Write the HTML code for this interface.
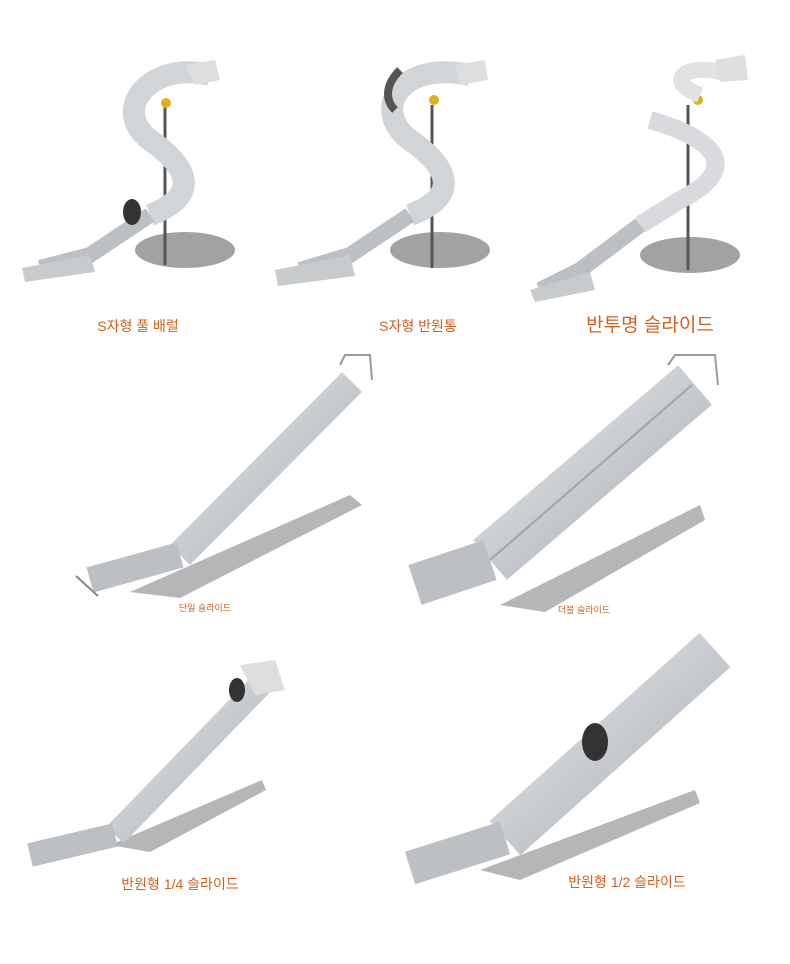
<!DOCTYPE html>
<html><head><meta charset="utf-8"><style>
html,body{margin:0;padding:0;background:#fff;}
svg{display:block}
text{font-family:"Liberation Sans","Noto Sans CJK KR","NanumGothic",sans-serif;fill:#d0601e}
</style></head><body>
<svg width="790" height="964" viewBox="0 0 790 964" xmlns="http://www.w3.org/2000/svg">
<defs>
<linearGradient id="g" x1="0" y1="0" x2="1" y2="1"><stop offset="0" stop-color="#e8eaec"/><stop offset="1" stop-color="#a8adb2"/></linearGradient>
</defs>
<!-- spiral 1 -->
<g>
<ellipse cx="185" cy="250" rx="50" ry="18" fill="#a0a2a4"/>
<line x1="165" y1="105" x2="165" y2="265" stroke="#555" stroke-width="3"/>
<circle cx="166" cy="103" r="5" fill="#e0b020"/>
<path d="M210 75 C150 60 110 110 150 140 C200 175 190 200 150 215" fill="none" stroke="#d2d5d8" stroke-width="22"/>
<path d="M185 65 L215 60 L220 80 L195 85Z" fill="#dcdee0"/>
<path d="M150 215 L90 255 L40 268" fill="none" stroke="#bcc0c4" stroke-width="16"/>
<path d="M22 268 L90 255 L95 272 L25 282Z" fill="#c8cbce"/>
<ellipse cx="132" cy="212" rx="9" ry="13" fill="#333"/>
</g>
<!-- spiral 2 -->
<g>
<ellipse cx="440" cy="250" rx="50" ry="18" fill="#a0a2a4"/>
<line x1="432" y1="105" x2="432" y2="268" stroke="#555" stroke-width="3"/>
<circle cx="434" cy="100" r="5" fill="#e0b020"/>
<path d="M470 75 C400 60 370 110 410 140 C460 175 450 200 410 215" fill="none" stroke="#d2d5d8" stroke-width="22"/>
<path d="M400 70 C385 85 385 100 395 110" fill="none" stroke="#555" stroke-width="8"/>
<path d="M455 65 L485 60 L488 80 L460 85Z" fill="#dcdee0"/>
<path d="M410 215 L350 255 L300 270" fill="none" stroke="#bcc0c4" stroke-width="16"/>
<path d="M275 270 L350 255 L355 276 L278 286Z" fill="#c8cbce"/>
</g>
<!-- spiral 3 -->
<g>
<ellipse cx="690" cy="255" rx="50" ry="18" fill="#a0a2a4"/>
<line x1="688" y1="105" x2="688" y2="270" stroke="#555" stroke-width="3"/>
<circle cx="698" cy="100" r="5" fill="#e0b020"/>
<path d="M730 75 C690 60 660 80 700 95" fill="none" stroke="#e0e2e4" stroke-width="16"/>
<path d="M715 60 L745 55 L748 80 L720 82Z" fill="#dcdee0"/>
<path d="M650 120 C720 140 740 170 680 200 L640 225" fill="none" stroke="#d8dadd" stroke-width="18"/>
<path d="M640 225 L580 270 L540 290" fill="none" stroke="#bcc0c4" stroke-width="16"/>
<path d="M530 290 L590 272 L595 290 L535 302Z" fill="#c8cbce"/>
</g>
<!-- single slide -->
<polygon points="130,592 350,495 362,505 180,598" fill="#b4b6b8"/>
<line x1="352" y1="382" x2="180" y2="555" stroke="url(#g)" stroke-width="28"/>
<path d="M180 555 L90 580" stroke="#bcc0c4" stroke-width="26"/>
<path d="M76 576 L98 596" stroke="#888" stroke-width="2"/>
<path d="M340 365 L345 355 L370 355 L372 380" fill="none" stroke="#999" stroke-width="2"/>
<!-- double slide -->
<polygon points="500,605 700,505 705,520 545,612" fill="#b4b6b8"/>
<line x1="695" y1="385" x2="490" y2="560" stroke="url(#g)" stroke-width="52"/>
<line x1="692" y1="385" x2="490" y2="560" stroke="#a0a4a8" stroke-width="2"/>
<path d="M490 560 L415 585" stroke="#bcc0c4" stroke-width="42"/>
<path d="M668 365 L675 355 L715 355 L718 385" fill="none" stroke="#999" stroke-width="2"/>
<!-- quarter slide -->
<polygon points="110,845 262,780 266,790 150,852" fill="#b4b6b8"/>
<line x1="270" y1="675" x2="115" y2="835" stroke="url(#g)" stroke-width="24"/>
<path d="M240 665 L275 660 L285 690 L255 695Z" fill="#dcdee0"/>
<ellipse cx="237" cy="690" rx="8" ry="12" fill="#333"/>
<path d="M115 835 L30 855" stroke="#bcc0c4" stroke-width="24"/>
<!-- half slide -->
<polygon points="480,870 695,790 700,803 520,880" fill="#b4b6b8"/>
<line x1="715" y1="650" x2="505" y2="838" stroke="url(#g)" stroke-width="46"/>
<ellipse cx="595" cy="742" rx="13" ry="19" fill="#333"/>
<path d="M505 838 L410 868" stroke="#bcc0c4" stroke-width="34"/>
<!-- labels -->
<text x="138" y="331" font-size="14" text-anchor="middle">S자형 풀 배럴</text>
<text x="418" y="331" font-size="14" text-anchor="middle">S자형 반원통</text>
<text x="650" y="331" font-size="19" text-anchor="middle">반투명 슬라이드</text>
<text x="205" y="611" font-size="9" text-anchor="middle">단일 슬라이드</text>
<text x="584" y="613" font-size="9" text-anchor="middle">더블 슬라이드</text>
<text x="180" y="889" font-size="14" text-anchor="middle">반원형 1/4 슬라이드</text>
<text x="627" y="887" font-size="14" text-anchor="middle">반원형 1/2 슬라이드</text>
</svg>
</body></html>
